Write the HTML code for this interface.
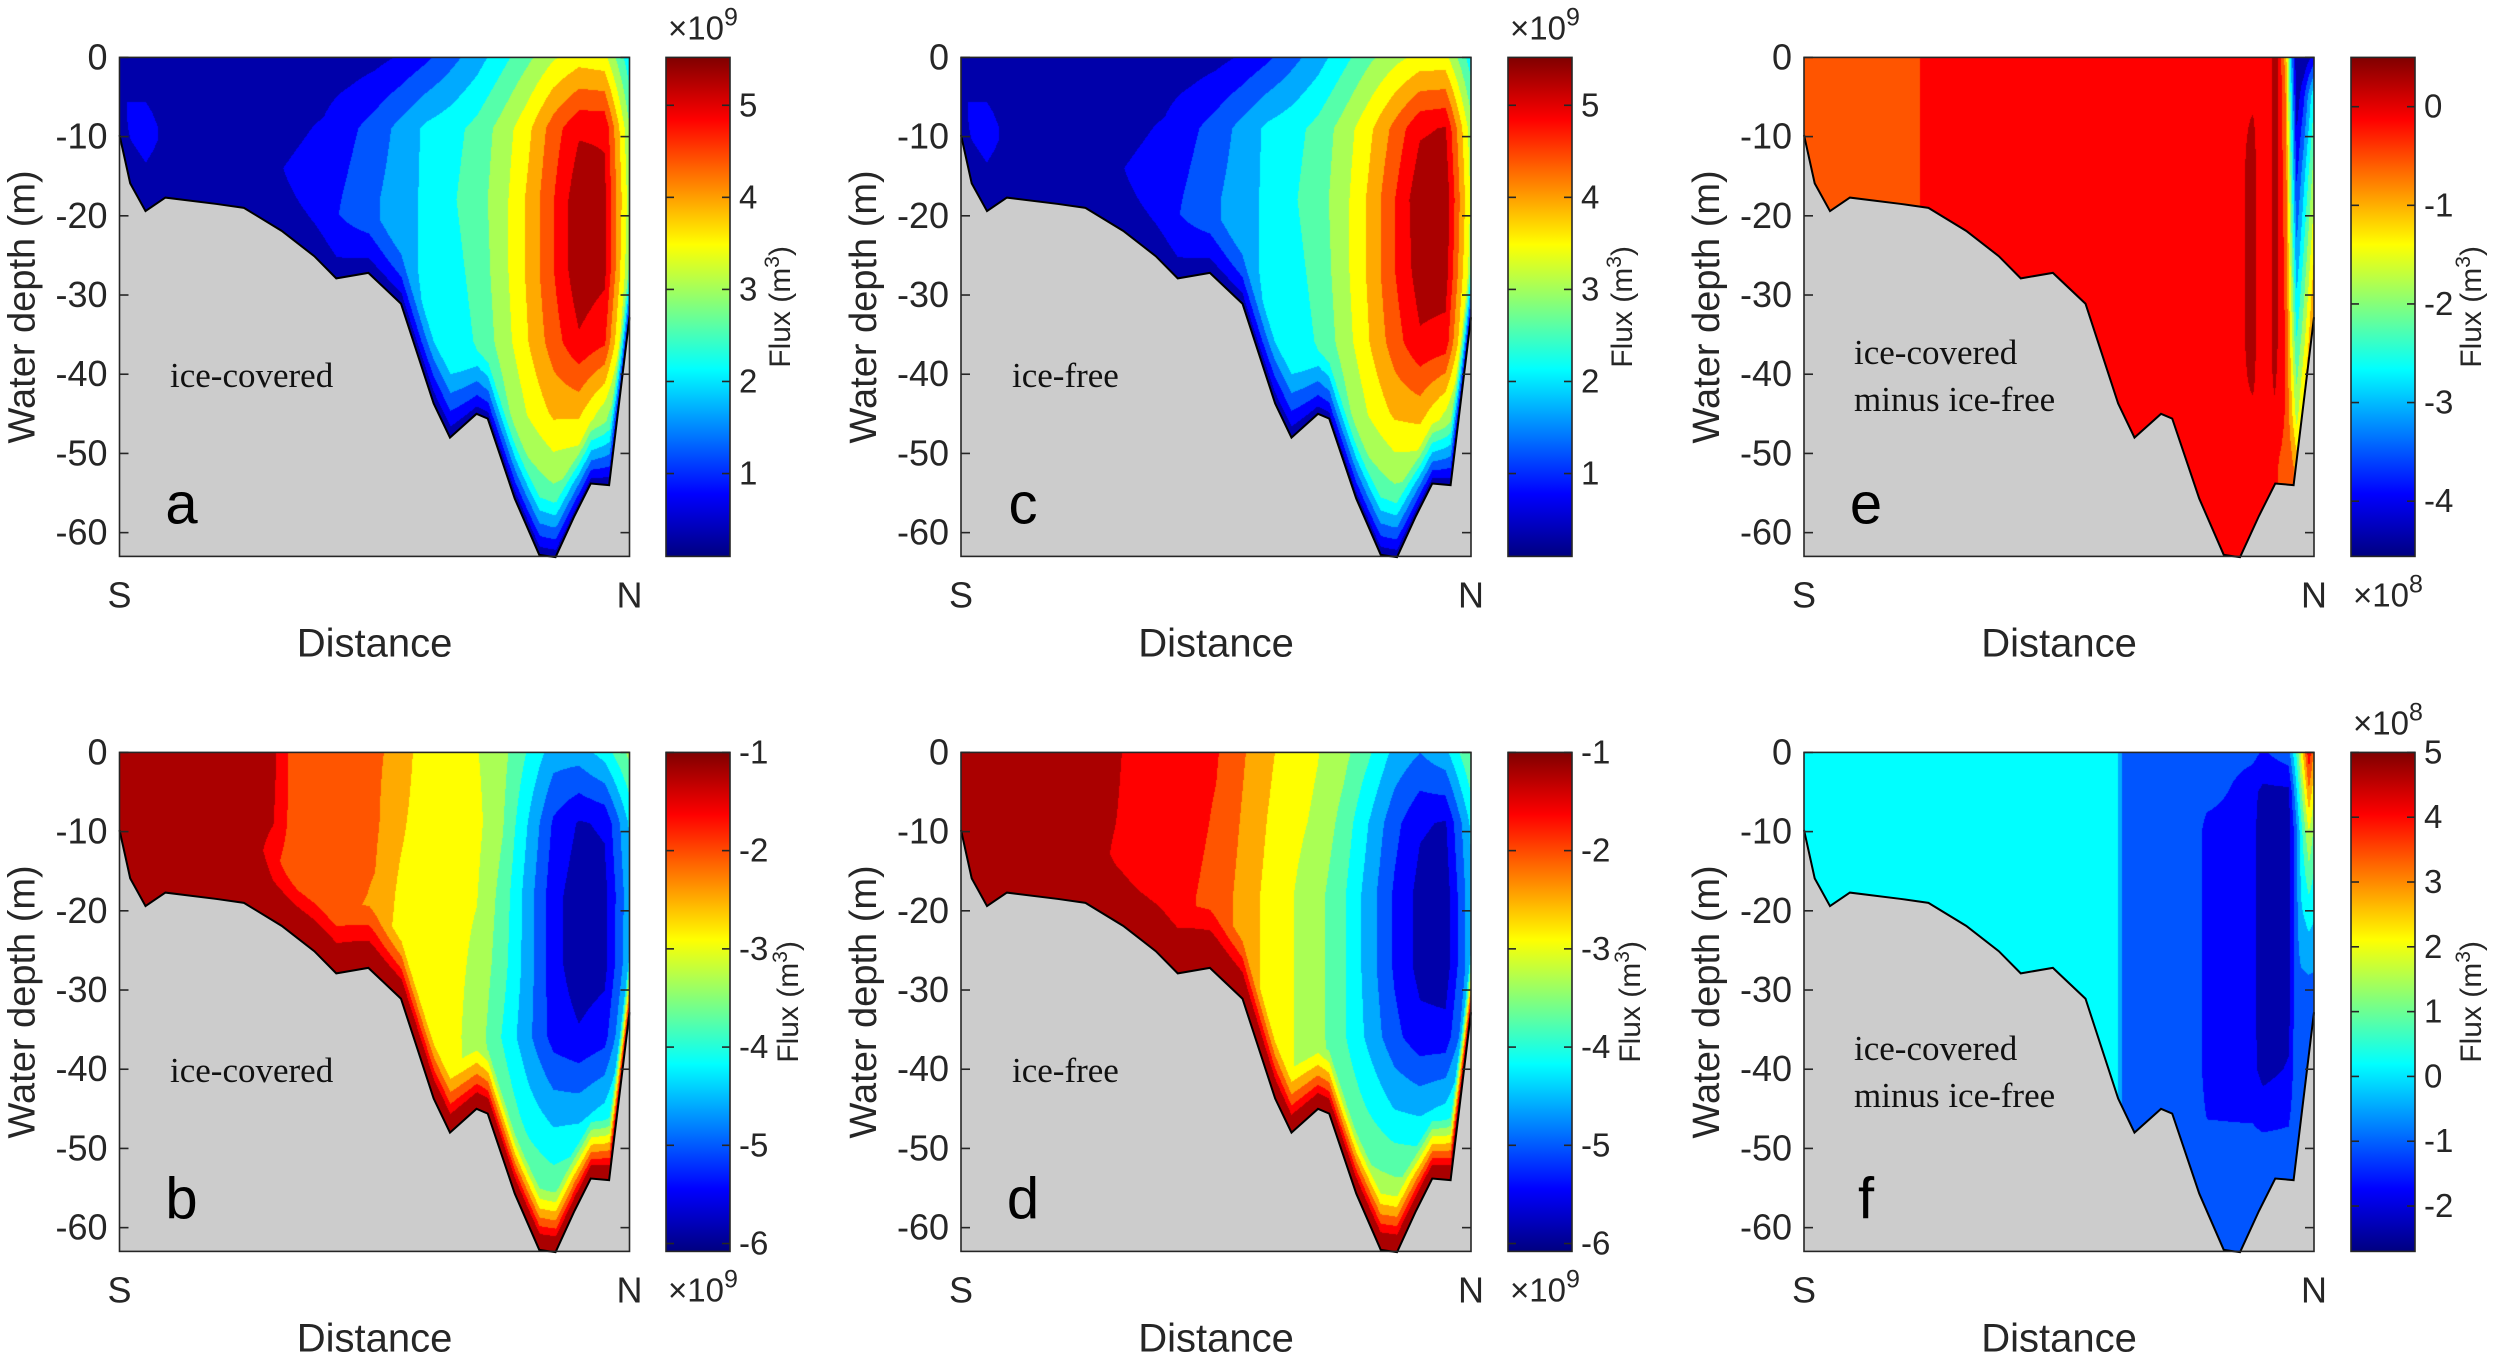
<!DOCTYPE html>
<html><head><meta charset="utf-8">
<style>
html,body{margin:0;padding:0;background:#fff;}
#wrap{position:relative;width:2500px;height:1357px;overflow:hidden;background:#fff;}
canvas{position:absolute;}
svg{position:absolute;left:0;top:0;}
text{font-family:"Liberation Sans",Arial,sans-serif;fill:#262626;}
.serif{font-family:"Liberation Serif","Times New Roman",serif;fill:#111;}
</style></head>
<body>
<div id="wrap">
<svg id="svg" width="2500" height="1357"></svg>
</div>
<script>
// ---------------- DATA ----------------
const depthTicks=[0,-10,-20,-30,-40,-50,-60];
const bathyX=[0,0.021,0.051,0.09,0.19,0.244,0.318,0.382,0.425,0.488,0.552,0.616,0.648,0.7,0.722,0.775,0.823,0.855,0.892,0.924,0.96,1.0];
const bathyZ=[-9.8,-15.9,-19.4,-17.7,-18.5,-19,-21.9,-25.1,-27.9,-27.2,-31.1,-43.7,-48,-45,-45.6,-55.7,-62.8,-63.1,-57.9,-53.8,-54,-32.8];
const gridX=[0,0.05,0.1,0.15,0.2,0.25,0.3,0.35,0.4,0.45,0.5,0.55,0.6,0.65,0.7,0.75,0.8,0.85,0.9,0.95,1.0];
const gridZ=[0,-9,-18,-27,-36,-45,-54,-63];
const aVals=[
[0.3,0.3,0.3,0.3,0.3,0.3,0.3,0.3,0.3,0.3,0.4,0.6,0.9,1.3,1.7,2.2,2.7,3.2,3.5,3.4,2.0],
[0.7,0.7,0.4,0.4,0.4,0.4,0.4,0.5,0.6,0.9,1.2,1.6,2.0,2.2,2.5,3.0,3.6,4.4,5.0,5.0,2.8],
[0.7,0.6,0.5,0.5,0.5,0.5,0.6,0.7,0.8,1.1,1.4,1.7,2.0,2.3,2.6,3.1,3.8,4.6,5.4,5.2,3.0],
[0.7,0.7,0.7,0.7,0.7,0.8,0.8,0.9,1.0,1.2,1.4,1.7,2.0,2.2,2.5,3.1,3.8,4.6,5.4,5.2,2.8],
[0.7,0.7,0.7,0.7,0.7,0.7,0.8,0.8,0.9,1.1,1.3,1.6,1.9,2.1,2.4,3.0,3.7,4.4,5.0,4.7,2.3],
[0.7,0.7,0.7,0.7,0.7,0.7,0.7,0.7,0.7,0.8,0.9,1.1,1.4,1.7,2.0,2.6,3.3,3.8,3.8,3.0,1.8],
[0.7,0.7,0.7,0.7,0.7,0.7,0.7,0.7,0.7,0.7,0.7,0.7,1.0,1.2,1.6,2.0,2.5,2.8,2.6,2.0,1.4],
[0.7,0.7,0.7,0.7,0.7,0.7,0.7,0.7,0.7,0.7,0.7,0.7,0.7,0.7,1.2,1.5,1.8,2.0,1.8,1.4,1.0]];
const cVals=[
[0.3,0.3,0.3,0.3,0.3,0.3,0.3,0.3,0.3,0.3,0.4,0.6,0.9,1.3,1.7,2.2,2.7,3.1,3.4,3.4,2.1],
[0.7,0.7,0.4,0.4,0.4,0.4,0.4,0.5,0.6,0.9,1.2,1.6,2.0,2.2,2.5,3.0,3.6,4.3,5.0,5.1,3.0],
[0.7,0.6,0.5,0.5,0.5,0.5,0.6,0.7,0.8,1.1,1.4,1.7,2.0,2.3,2.6,3.1,3.8,4.6,5.4,5.4,3.2],
[0.7,0.7,0.7,0.7,0.7,0.8,0.8,0.9,1.0,1.2,1.4,1.7,2.0,2.2,2.5,3.1,3.8,4.6,5.3,5.3,3.0],
[0.7,0.7,0.7,0.7,0.7,0.7,0.8,0.8,0.9,1.1,1.3,1.6,1.9,2.1,2.4,3.0,3.7,4.4,5.0,4.9,2.5],
[0.7,0.7,0.7,0.7,0.7,0.7,0.7,0.7,0.7,0.8,0.9,1.1,1.4,1.7,2.0,2.6,3.3,3.8,3.9,3.2,1.9],
[0.7,0.7,0.7,0.7,0.7,0.7,0.7,0.7,0.7,0.7,0.7,0.7,1.0,1.2,1.6,2.0,2.5,2.8,2.7,2.1,1.4],
[0.7,0.7,0.7,0.7,0.7,0.7,0.7,0.7,0.7,0.7,0.7,0.7,0.7,0.7,1.2,1.5,1.8,2.0,1.8,1.4,1.0]];
const bVals=[
[-1.1,-1.1,-1.1,-1.1,-1.1,-1.1,-1.3,-2.2,-2.2,-2.2,-2.2,-2.4,-3.0,-3.0,-3.1,-3.4,-4.0,-4.6,-4.6,-4.2,-3.4],
[-1.1,-1.1,-1.1,-1.1,-1.1,-1.1,-1.4,-2.2,-2.2,-2.2,-2.2,-2.6,-3.0,-3.0,-3.0,-3.5,-4.4,-5.3,-5.7,-5.6,-4.3],
[-1.1,-1.1,-1.1,-1.1,-1.1,-1.1,-2.0,-2.2,-2.2,-2.2,-2.3,-2.8,-3.0,-3.0,-3.1,-3.7,-4.6,-5.5,-5.9,-5.8,-4.5],
[-1.1,-1.1,-1.1,-1.1,-1.1,-1.2,-2.0,-2.2,-2.2,-2.3,-2.5,-2.9,-3.0,-3.0,-3.2,-3.8,-4.6,-5.5,-5.9,-5.8,-4.4],
[-1.1,-1.1,-1.1,-1.1,-1.1,-1.2,-2.0,-2.2,-2.2,-2.4,-2.6,-2.9,-3.0,-3.0,-3.3,-4.0,-4.7,-5.4,-5.6,-5.4,-4.0],
[-1.1,-1.1,-1.1,-1.1,-1.1,-1.2,-2.0,-2.2,-2.2,-2.4,-2.6,-2.9,-3.0,-3.0,-3.2,-3.6,-4.2,-4.6,-4.6,-4.3,-3.4],
[-1.1,-1.1,-1.1,-1.1,-1.1,-1.2,-2.0,-2.2,-2.2,-2.4,-2.6,-2.9,-3.0,-3.0,-3.1,-3.3,-3.6,-3.8,-3.6,-3.3,-2.8],
[-1.1,-1.1,-1.1,-1.1,-1.1,-1.2,-2.0,-2.2,-2.2,-2.4,-2.6,-2.9,-3.0,-3.0,-3.0,-3.1,-3.2,-3.2,-3.1,-3.0,-2.6]];
const dVals=[
[-1.1,-1.1,-1.1,-1.1,-1.1,-1.1,-1.3,-1.7,-1.7,-1.7,-1.8,-2.2,-2.6,-2.9,-3.1,-3.4,-3.9,-4.5,-4.8,-4.5,-3.5],
[-1.1,-1.1,-1.1,-1.1,-1.1,-1.1,-1.4,-1.7,-1.7,-1.7,-1.9,-2.3,-2.7,-3.0,-3.2,-3.7,-4.4,-5.1,-5.6,-5.7,-4.3],
[-1.1,-1.1,-1.1,-1.1,-1.1,-1.1,-1.6,-1.7,-1.7,-1.8,-2.0,-2.4,-2.8,-3.1,-3.4,-3.9,-4.6,-5.3,-5.8,-5.9,-4.5],
[-1.1,-1.1,-1.1,-1.1,-1.1,-1.1,-1.6,-1.7,-1.7,-1.8,-2.0,-2.4,-2.8,-3.1,-3.4,-3.9,-4.6,-5.3,-5.8,-5.9,-4.5],
[-1.1,-1.1,-1.1,-1.1,-1.1,-1.2,-1.6,-1.7,-1.7,-1.8,-2.0,-2.4,-2.8,-3.1,-3.4,-3.9,-4.5,-5.1,-5.5,-5.5,-4.2],
[-1.1,-1.1,-1.1,-1.1,-1.1,-1.2,-1.6,-1.7,-1.7,-1.8,-2.0,-2.4,-2.8,-3.1,-3.3,-3.6,-4.0,-4.4,-4.5,-4.3,-3.5],
[-1.1,-1.1,-1.1,-1.1,-1.1,-1.2,-1.6,-1.7,-1.7,-1.8,-2.0,-2.4,-2.8,-3.0,-3.1,-3.2,-3.4,-3.5,-3.5,-3.3,-2.8],
[-1.1,-1.1,-1.1,-1.1,-1.1,-1.2,-1.6,-1.7,-1.7,-1.8,-2.0,-2.4,-2.8,-2.9,-2.9,-3.0,-3.0,-3.0,-3.0,-2.9,-2.6]];
const eX=[0,0.225,0.235,0.86,0.88,0.888,0.915,0.923,0.931,0.945,0.955,0.966,0.98,1.0];
const eZ=[0,-5,-15,-25,-35,-45,-52,-63];
const eVals=[
[-0.5,-0.5,0.0,0.0,0.0,0.0,0.0,0.3,0.0,-1.0,-3.0,-4.5,-4.5,-4.0],
[-0.5,-0.5,0.0,0.0,0.0,0.0,0.0,0.35,0.0,-0.8,-2.6,-4.4,-3.8,-2.5],
[-0.5,-0.5,0.0,0.0,0.35,0.0,0.0,0.35,0.0,-0.6,-2.2,-3.8,-3.0,-1.8],
[-0.5,-0.5,0.0,0.0,0.35,0.0,0.0,0.35,0.0,-0.5,-1.8,-3.2,-2.4,-1.2],
[-0.5,-0.5,0.0,0.0,0.35,0.0,0.0,0.35,0.0,-0.4,-1.4,-2.5,-1.8,-0.6],
[-0.5,-0.5,0.0,0.0,0.0,0.0,0.0,0.0,-0.1,-0.4,-1.0,-1.8,-1.0,-0.3],
[-0.5,-0.5,0.0,0.0,0.0,0.0,0.0,0.0,-0.4,-0.5,-0.6,-0.9,-0.5,-0.3],
[-0.5,-0.5,0.0,0.0,0.0,0.0,0.0,0.0,-0.4,-0.5,-0.6,-0.9,-0.5,-0.3]];
const fX=[0,0.615,0.625,0.77,0.79,0.88,0.9,0.95,0.965,0.975,0.99,1.0];
const fZ=[0,-5,-10,-20,-30,-40,-50,-63];
const fVals=[
[0,0,-1.0,-1.0,-1.0,-1.2,-1.5,-1.0,0.5,2.0,4.2,3.0],
[0,0,-1.0,-1.0,-1.0,-1.9,-2.2,-2.2,-0.3,1.0,3.0,2.0],
[0,0,-1.0,-1.0,-1.8,-1.9,-2.4,-2.4,-1.0,0.3,1.8,1.0],
[0,0,-1.0,-1.0,-1.8,-1.9,-2.4,-2.4,-1.0,-0.2,0.2,0.0],
[0,0,-1.0,-1.0,-1.8,-1.9,-2.4,-2.4,-1.0,-1.0,-1.0,-1.0],
[0,0,-1.0,-1.0,-1.8,-1.9,-2.3,-2.0,-1.0,-1.0,-1.0,-1.0],
[0,0,-1.0,-1.0,-1.2,-1.2,-1.2,-1.2,-1.0,-1.0,-1.0,-1.0],
[0,0,-1.0,-1.0,-1.0,-1.0,-1.0,-1.0,-1.0,-1.0,-1.0,-1.0]];
const cbTicksAC=[1,2,3,4,5];
const cbTicksBD=[-1,-2,-3,-4,-5,-6];
const cbTicksE=[0,-1,-2,-3,-4];
const cbTicksF=[-2,-1,0,1,2,3,4,5];

// ---------------- LAYOUT ----------------
const PW=510, PH=499, CBW=64, ZMIN=-63;
const panels=[
 {id:'a',left:119.5,top:57.4,cb:666,xs:gridX,zs:gridZ,v:aVals,vmin:0.1,vmax:5.52,ticks:cbTicksAC,exp:'9',expTop:true,label:['ice-covered'],lx:170,ly:[375],bedBand:8,flx:60},
 {id:'c',left:961,top:57.4,cb:1508,xs:gridX,zs:gridZ,v:cVals,vmin:0.1,vmax:5.52,ticks:cbTicksAC,exp:'9',expTop:true,label:['ice-free'],lx:1012,ly:[375],bedBand:8,flx:60},
 {id:'e',left:1804,top:57.4,cb:2351,xs:eX,zs:eZ,v:eVals,vmin:-4.56,vmax:0.5,ticks:cbTicksE,exp:'8',expTop:false,label:['ice-covered','minus ice-free'],lx:1854,ly:[352,399],bedBand:0,flx:66},
 {id:'b',left:119.5,top:752.4,cb:666,xs:gridX,zs:gridZ,v:bVals,vmin:-6.08,vmax:-1,ticks:cbTicksBD,exp:'9',expTop:false,label:['ice-covered'],lx:170,ly:[1070],bedBand:8,flx:68},
 {id:'d',left:961,top:752.4,cb:1508,xs:gridX,zs:gridZ,v:dVals,vmin:-6.08,vmax:-1,ticks:cbTicksBD,exp:'9',expTop:false,label:['ice-free'],lx:1012,ly:[1070],bedBand:8,flx:68},
 {id:'f',left:1804,top:752.4,cb:2351,xs:fX,zs:fZ,v:fVals,vmin:-2.7,vmax:5,ticks:cbTicksF,exp:'8',expTop:true,label:['ice-covered','minus ice-free'],lx:1854,ly:[1048,1095],bedBand:0,flx:66}
];
const NLEV=12;
function jet(p){const c=t=>Math.max(0,Math.min(1,t));return [c(1.5-Math.abs(4*p-3)),c(1.5-Math.abs(4*p-2)),c(1.5-Math.abs(4*p-1))].map(t=>Math.round(t*255));}
function seg(arr,v,desc){
 for(let i=0;i<arr.length-1;i++){const a=arr[i],b=arr[i+1];if(desc?(v<=a&&v>=b):(v>=a&&v<=b))return i;}
 return arr.length-2;}
function interp(p,x,z){const i=seg(p.xs,x,false),j=seg(p.zs,z,true);
 const tx=(x-p.xs[i])/(p.xs[i+1]-p.xs[i]||1), tz=(z-p.zs[j])/(p.zs[j+1]-p.zs[j]||1);
 const v=p.v;return (v[j][i]*(1-tx)+v[j][i+1]*tx)*(1-tz)+(v[j+1][i]*(1-tx)+v[j+1][i+1]*tx)*tz;}
function bedAt(x){const i=seg(bathyX,x,false);const t=(x-bathyX[i])/(bathyX[i+1]-bathyX[i]);return bathyZ[i]*(1-t)+bathyZ[i+1]*t;}
const NS='http://www.w3.org/2000/svg';
const svg=document.getElementById('svg');
function el(tag,attrs,parent){const e=document.createElementNS(NS,tag);for(const k in attrs)e.setAttribute(k,attrs[k]);(parent||svg).appendChild(e);return e;}
const defs=el('defs',{});
const grad=el('linearGradient',{id:'jetg',x1:0,y1:0,x2:0,y2:1},defs);
[[0,'#800000'],[0.125,'#ff0000'],[0.375,'#ffff00'],[0.625,'#00ffff'],[0.875,'#0000ff'],[1,'#000080']].forEach(s=>el('stop',{offset:s[0],'stop-color':s[1]},grad));
const wrap=document.getElementById('wrap');

panels.forEach(p=>{
 const xS=f=>p.left+f*PW, zS=z=>p.top+(z/ZMIN)*PH;
 const cv=document.createElement('canvas');cv.width=PW;cv.height=PH;
 cv.style.left=p.left+'px';cv.style.top=p.top+'px';
 
 
 wrap.insertBefore(cv,svg);
 const ctx=cv.getContext('2d'),img=ctx.createImageData(PW,PH),step=(p.vmax-p.vmin)/NLEV;
 const refV=0;
 for(let px=0;px<PW;px++){const x=(px+0.5)/PW;const bz=bedAt(x);
  for(let py=0;py<PH;py++){const z=(py+0.5)/PH*ZMIN;
   let v=interp(p,x,z);
   if(p.bedBand>0){const f=Math.pow(Math.max(0,Math.min(1,(z-bz)/p.bedBand)),0.6);v=refV+(v-refV)*f;}
   let k=Math.floor((v-p.vmin)/step);k=Math.max(0,Math.min(NLEV-1,k));
   const col=jet((k+0.5)/NLEV),o=(py*PW+px)*4;img.data[o]=col[0];img.data[o+1]=col[1];img.data[o+2]=col[2];img.data[o+3]=255;}}
 ctx.putImageData(img,0,0);
 const g=el('g',{});
 
 
 let d='M'+xS(0)+','+zS(ZMIN);bathyX.forEach((bx,i)=>d+=' L'+xS(bx)+','+zS(bathyZ[i]));d+=' L'+xS(1)+','+zS(ZMIN)+' Z';
 const bed=el('path',{d:d,fill:'#cccccc',stroke:'none'},g);
 
 
 let l='M'+xS(bathyX[0])+','+zS(bathyZ[0]);bathyX.forEach((bx,i)=>l+=' L'+xS(bx)+','+zS(bathyZ[i]));
 const bl=el('path',{d:l,fill:'none',stroke:'#000','stroke-width':2},g);
 
 
 const fr=el('rect',{x:p.left,y:p.top,width:PW,height:PH,fill:'none',stroke:'#262626','stroke-width':1.6},g);
 
 
 depthTicks.forEach(t=>{const y=zS(t);
  el('line',{x1:p.left,x2:p.left+9,y1:y,y2:y,stroke:'#262626','stroke-width':1.6},g);
  el('line',{x1:p.left+PW-9,x2:p.left+PW,y1:y,y2:y,stroke:'#262626','stroke-width':1.6},g);
  const tl=el('text',{x:p.left-12,y:y+12,'text-anchor':'end','font-size':36},g);tl.textContent=t;
  
  });
 const yt=el('text',{x:0,y:0,'text-anchor':'middle','font-size':38,transform:'translate('+(p.left-85)+','+(p.top+PH/2)+') rotate(-90)'},g);
 yt.textContent='Water depth (m)';
 
 
 const sl=el('text',{x:p.left,y:p.top+PH+51,'text-anchor':'middle','font-size':36},g);sl.textContent='S';
 
 
 const nl=el('text',{x:p.left+PW,y:p.top+PH+51,'text-anchor':'middle','font-size':36},g);nl.textContent='N';
 
 
 const xt=el('text',{x:p.left+PW/2,y:p.top+PH+100,'text-anchor':'middle','font-size':40},g);xt.textContent='Distance';
 
 
 const lt=el('text',{x:p.left+62,y:p.top+PH-33,'text-anchor':'middle','font-size':58,style:'fill:#000'},g);lt.textContent=p.id;
 
 
 p.label.forEach((s,i)=>{const tt=el('text',{x:p.lx,y:p.ly[i]+12,'font-size':35,'class':'serif'},g);tt.textContent=s;
  
  });
 const cS=v=>p.top+(p.vmax-v)/(p.vmax-p.vmin)*PH;
 const cb=el('rect',{x:p.cb,y:p.top,width:CBW,height:PH,fill:'url(#jetg)',stroke:'#262626','stroke-width':1.6},g);
 
 
 p.ticks.forEach(t=>{const y=cS(t);
  el('line',{x1:p.cb,x2:p.cb+8,y1:y,y2:y,stroke:'#262626','stroke-width':1.6},g);
  el('line',{x1:p.cb+CBW-8,x2:p.cb+CBW,y1:y,y2:y,stroke:'#262626','stroke-width':1.6},g);
  const ct=el('text',{x:p.cb+CBW+9,y:y+11,'font-size':33},g);ct.textContent=t;
  
  });
 const ft=el('text',{x:0,y:0,'text-anchor':'middle','font-size':30,transform:'translate('+(p.cb+CBW+p.flx)+','+(p.top+PH*0.5)+') rotate(-90)'},g);
 ft.appendChild(document.createTextNode('Flux (m'));
 const sup=el('tspan',{dy:-11,'font-size':21},ft);sup.textContent='3';
 const cl=el('tspan',{dy:11},ft);cl.textContent=')';
 
 
 const ey=p.expTop?p.top-18:p.top+PH+50;
 const ex=el('text',{x:p.cb+2,y:ey,'font-size':33},g);
 ex.appendChild(document.createTextNode('\u00d710'));
 const es=el('tspan',{dy:-14,'font-size':25},ex);es.textContent=p.exp;
 
 
});
</script>
</body></html>
